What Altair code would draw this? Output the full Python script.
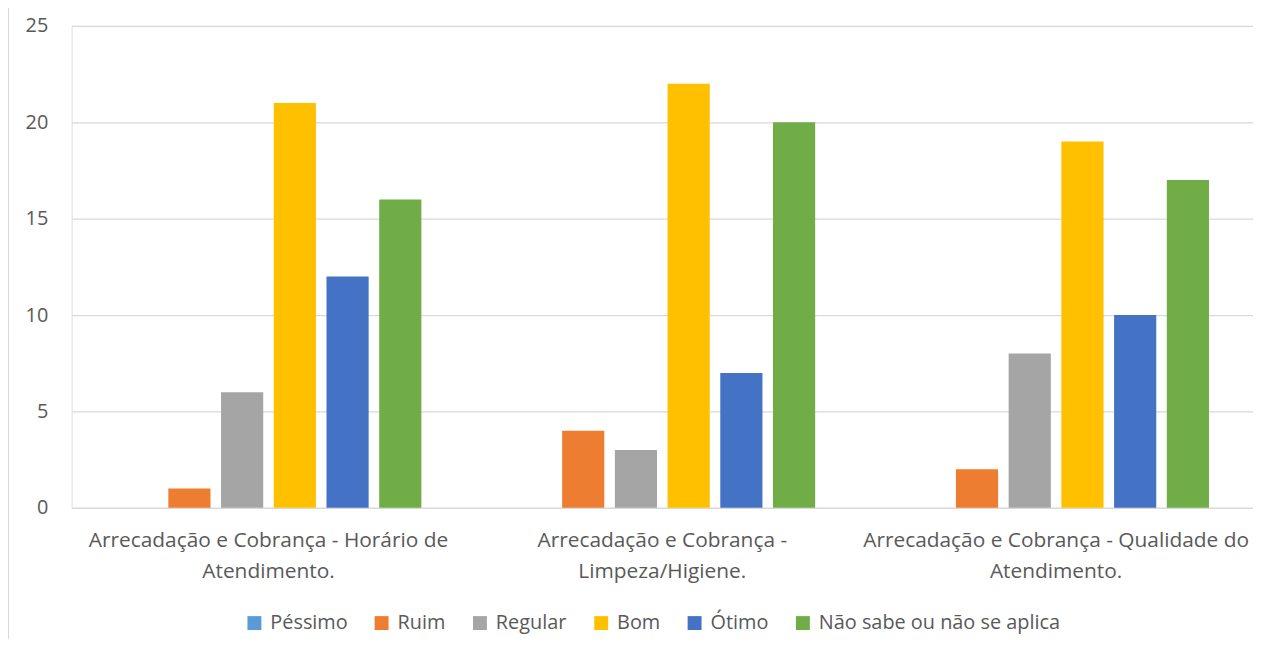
import altair as alt
import pandas as pd

cat_lines = [
    ["Arrecadação e Cobrança - Horário de", "Atendimento."],
    ["Arrecadação e Cobrança -", "Limpeza/Higiene."],
    ["Arrecadação e Cobrança - Qualidade do", "Atendimento."],
]
categories = [" ".join(l) for l in cat_lines]

series = ["Péssimo", "Ruim", "Regular", "Bom", "Ótimo", "Não sabe ou não se aplica"]
colors = ["#5B9BD5", "#ED7D31", "#A5A5A5", "#FFC000", "#4472C4", "#70AD47"]

pessimo = [0, 0, 0]
ruim = [1, 4, 2]
regular = [6, 3, 8]
bom = [21, 22, 19]
otimo = [12, 7, 10]
nao_sabe = [16, 20, 17]

values = [pessimo, ruim, regular, bom, otimo, nao_sabe]
rows = []
for s, vals in zip(series, values):
    for c, v in zip(categories, vals):
        rows.append({"categoria": c, "serie": s, "valor": v})
df = pd.DataFrame(rows)

expr = "''"
for c, l in reversed(list(zip(categories, cat_lines))):
    arr = "[" + ",".join("'" + x + "'" for x in l) + "]"
    expr = f"datum.value == '{c}' ? {arr} : ({expr})"

FONT = "Open Sans"
TXT = "#595959"
GRID = "#D9D9D9"
W, H = 1189, 485

bars = alt.Chart(df).mark_bar().encode(
    x=alt.X("categoria:N", sort=categories,
            scale=alt.Scale(paddingInner=0, paddingOuter=0),
            axis=alt.Axis(title=None, labelAngle=0, labelExpr=expr, labelFont=FONT,
                          labelFontSize=21, labelColor=TXT, labelPadding=22,
                          labelLineHeight=31, ticks=False, domainColor=GRID,
                          domainWidth=1.3, labelLimit=0)),
    xOffset=alt.XOffset("serie:N", sort=series,
                        scale=alt.Scale(paddingInner=0.2, paddingOuter=0.835)),
    y=alt.Y("valor:Q", scale=alt.Scale(domain=[0, 25], nice=False),
            axis=alt.Axis(title=None, values=[0, 5, 10, 15, 20, 25], labelFont=FONT,
                          labelFontSize=20, labelColor=TXT, labelPadding=24,
                          ticks=False, domain=False, gridColor=GRID, gridWidth=1.3)),
    color=alt.Color("serie:N", sort=series,
                    scale=alt.Scale(domain=series, range=colors),
                    legend=alt.Legend(title=None, orient="none", legendX=174, legendY=591,
                                      direction="horizontal", columns=6,
                                      symbolType="square", symbolSize=196,
                                      symbolStrokeWidth=0, symbolOpacity=1,
                                      labelFont=FONT, labelFontSize=20, labelColor=TXT,
                                      labelOffset=6, columnPadding=24, padding=0,
                                      labelLimit=0)),
)

border = alt.Chart(pd.DataFrame({"a": [0]})).mark_rule(color=GRID, strokeWidth=2).encode(
    x=alt.value(-64), y=alt.value(-20), y2=alt.value(H + 140)
)

chart = alt.layer(border, bars).properties(
    width=W, height=H,
    autosize=alt.AutoSizeParams(type="none"),
    padding={"left": 64, "top": 16, "right": 0, "bottom": 130},
).configure_view(stroke=None).configure(background="white")

chart.save("out.html", embed_options={"renderer": "svg", "actions": False})
